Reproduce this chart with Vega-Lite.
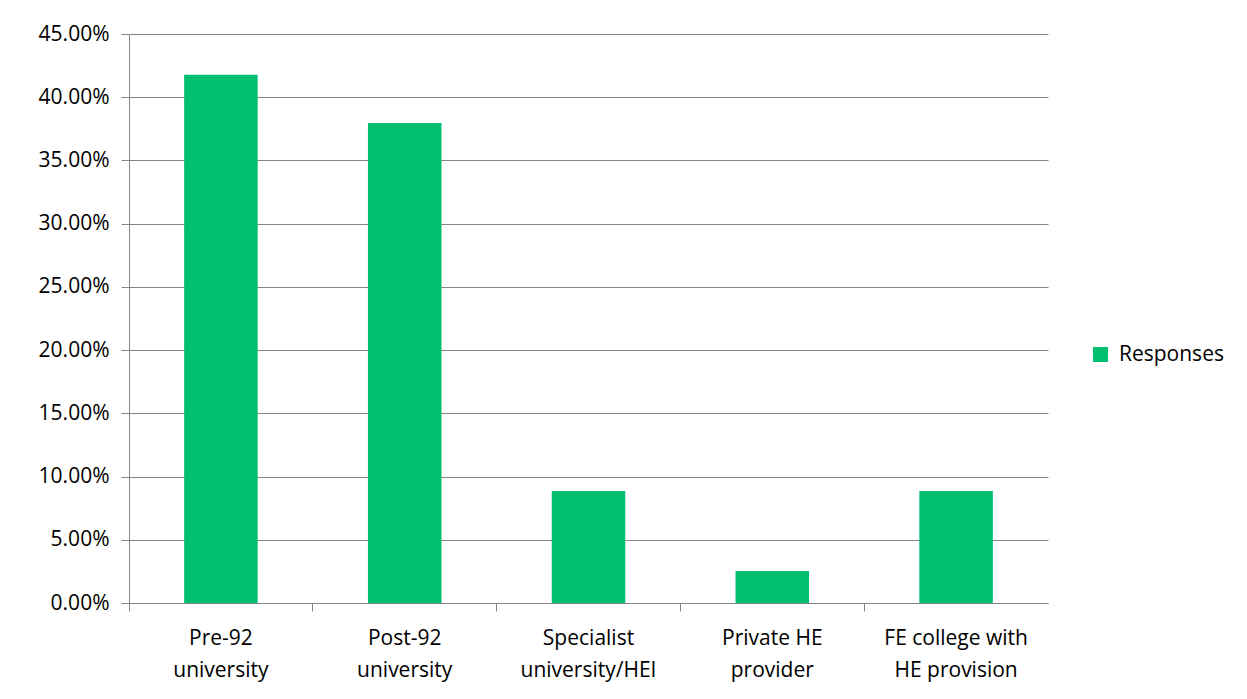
{
  "$schema": "https://vega.github.io/schema/vega-lite/v6.json",
  "autosize": {"type": "none"},
  "width": 919,
  "height": 569,
  "padding": {"left": 129, "top": 34, "right": 199, "bottom": 96},
  "background": "white",
  "config": {
    "font": "Open Sans",
    "view": {"stroke": null},
    "axis": {"labelFont": "Open Sans", "labelFontSize": 21, "labelColor": "#000000", "domainColor": "#868686", "tickColor": "#868686", "gridColor": "#868686", "title": null}
  },
  "data": {
    "values": [
      {"category": "Pre-92 university", "value": 0.4177, "series": "Responses"},
      {"category": "Post-92 university", "value": 0.3797, "series": "Responses"},
      {"category": "Specialist university/HEI", "value": 0.0886, "series": "Responses"},
      {"category": "Private HE provider", "value": 0.0253, "series": "Responses"},
      {"category": "FE college with HE provision", "value": 0.0886, "series": "Responses"}
    ]
  },
  "mark": {"type": "bar", "width": {"band": 0.4}},
  "encoding": {
    "x": {
      "field": "category",
      "type": "nominal",
      "sort": null,
      "scale": {"paddingInner": 0, "paddingOuter": 0},
      "axis": {
        "labelAngle": 0,
        "bandPosition": 0,
        "tickSize": 8,
        "labelPadding": 16,
        "labelLineHeight": 32,
        "labelExpr": "datum.value == 'Pre-92 university' ? ['Pre-92', 'university'] : datum.value == 'Post-92 university' ? ['Post-92', 'university'] : datum.value == 'Specialist university/HEI' ? ['Specialist', 'university/HEI'] : datum.value == 'Private HE provider' ? ['Private HE', 'provider'] : ['FE college with', 'HE provision']"
      }
    },
    "y": {
      "field": "value",
      "type": "quantitative",
      "scale": {"domain": [0, 0.45], "nice": false},
      "axis": {
        "values": [0, 0.05, 0.1, 0.15, 0.2, 0.25, 0.3, 0.35, 0.4, 0.45],
        "format": ".2%",
        "tickSize": 8,
        "labelPadding": 12,
        "grid": true
      }
    },
    "color": {
      "field": "series",
      "type": "nominal",
      "scale": {"range": ["#00BF6F"]},
      "legend": {
        "title": null,
        "orient": "none",
        "legendX": 961,
        "legendY": 310,
        "symbolType": "square",
        "symbolSize": 225,
        "symbolStrokeWidth": 0,
        "labelFontSize": 21,
        "labelFont": "Open Sans",
        "labelColor": "#000000",
        "labelOffset": 8
      }
    }
  }
}
